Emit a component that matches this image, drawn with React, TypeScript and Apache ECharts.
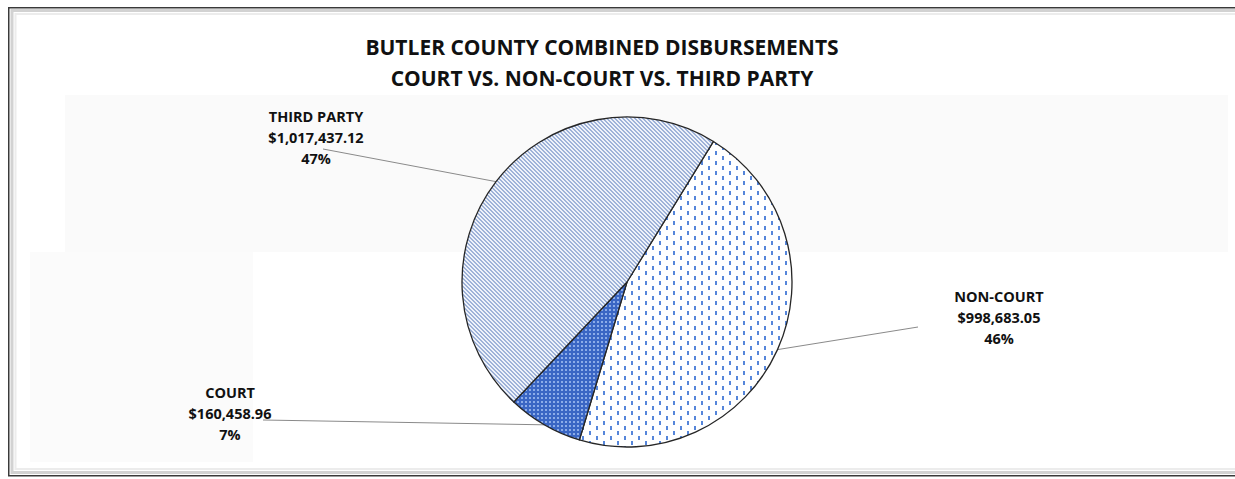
import React, { useEffect, useRef } from "react";
import * as echarts from "echarts";

const TITLE_LINES = ["BUTLER COUNTY COMBINED DISBURSEMENTS", "COURT VS. NON-COURT VS. THIRD PARTY"];
const CATEGORIES = ["NON-COURT", "COURT", "THIRD PARTY"];
const VALUES = [998683.05, 160458.96, 1017437.12];

// label layout (text block centres and leader line end points), pixels
const LABEL_CENTERS: [number, number][] = [[999, 317], [230, 413], [316, 137]];
const LINE_ENDS: [number, number][] = [[918, 327], [263, 420], [323, 149]];

type RGB = [number, number, number];
function makeTile(w: number, h: number, fn: (x: number, y: number) => RGB) {
  const c = document.createElement("canvas");
  c.width = w;
  c.height = h;
  const ctx = c.getContext("2d")!;
  const img = ctx.createImageData(w, h);
  for (let y = 0; y < h; y++) {
    for (let x = 0; x < w; x++) {
      const [r, g, b] = fn(x, y);
      const i = (y * w + x) * 4;
      img.data[i] = r;
      img.data[i + 1] = g;
      img.data[i + 2] = b;
      img.data[i + 3] = 255;
    }
  }
  ctx.putImageData(img, 0, 0);
  return c;
}

export default function App() {
  const ref = useRef<HTMLDivElement>(null);
  useEffect(() => {
    if (!ref.current) return;
    const chart = echarts.init(ref.current, null, { renderer: "svg" });

    const tpTile = makeTile(4, 4, (x, y) =>
      ((x - y + 8) % 4) < 2 ? [158, 178, 216] : [238, 242, 250]
    );
    const ncTile = makeTile(14, 10, (x, y) => {
      if ((x === 1 || x === 2) && y >= 1 && y <= 4) return [86, 134, 218];
      if ((x === 8 || x === 9) && y >= 6 && y <= 9) return [86, 134, 218];
      return [255, 255, 255];
    });
    const ctTile = makeTile(4, 4, (x, y) =>
      x >= 1 && x <= 2 && y >= 1 && y <= 2 ? [140, 172, 232] : [58, 102, 196]
    );
    const tiles = [ncTile, ctTile, tpTile];

    const total = VALUES.reduce((a, b) => a + b, 0);

    chart.setOption({
      animation: false,
      backgroundColor: "#ffffff",
      title: {
        text: TITLE_LINES.join("\n"),
        left: 597,
        top: 26,
        textAlign: "center",
        textStyle: {
          fontFamily: "Open Sans",
          fontWeight: "bold",
          fontSize: 21,
          lineHeight: 31,
          color: "#111111",
        },
      },
      graphic: [
        {
          type: "rect",
          z: -10,
          shape: { x: 65, y: 95, width: 1163, height: 157 },
          style: { fill: "#fafafa" },
          silent: true,
        },
        {
          type: "rect",
          z: -10,
          shape: { x: 30, y: 252, width: 223, height: 210 },
          style: { fill: "#fbfbfb" },
          silent: true,
        },
        {
          type: "rect",
          z: 10,
          shape: { x: 12, y: 10.5, width: 1240, height: 462 },
          style: { fill: "none", stroke: "#d2d2d2", lineWidth: 3 },
          silent: true,
        },
        {
          type: "rect",
          z: 10,
          shape: { x: 15.5, y: 14, width: 1240, height: 455 },
          style: { fill: "none", stroke: "#ececec", lineWidth: 2 },
          silent: true,
        },
        {
          type: "rect",
          z: 11,
          shape: { x: 8.75, y: 7.75, width: 1240, height: 468 },
          style: { fill: "none", stroke: "#3a3a3a", lineWidth: 1.5 },
          silent: true,
        },
      ],
      series: [
        {
          type: "pie",
          center: [627, 282],
          radius: 165,
          startAngle: 58.4,
          clockwise: true,
          avoidLabelOverlap: false,
          itemStyle: { borderColor: "#262626", borderWidth: 1.3 },
          emphasis: { disabled: true },
          label: {
            show: true,
            position: "outside",
            fontFamily: "Open Sans",
            fontWeight: "bold",
            fontSize: 14.5,
            lineHeight: 21,
            color: "#111111",
            align: "center",
            formatter: (p: any) =>
              `${p.name}\n$${Number(p.value).toLocaleString("en-US", {
                minimumFractionDigits: 2,
                maximumFractionDigits: 2,
              })}\n${Math.round((p.value / total) * 100)}%`,
          },
          labelLine: {
            show: true,
            lineStyle: { color: "#8a8a8a", width: 1 },
          },
          labelLayout: (params: any) => {
            const i = params.dataIndex;
            const start = params.labelLinePoints ? params.labelLinePoints[0] : LINE_ENDS[i];
            const end = LINE_ENDS[i];
            return {
              x: LABEL_CENTERS[i][0],
              y: LABEL_CENTERS[i][1],
              align: "center",
              verticalAlign: "middle",
              labelLinePoints: [start, end, end],
            };
          },
          data: CATEGORIES.map((name, i) => ({
            name,
            value: VALUES[i],
            itemStyle: {
              color: {
                image: tiles[i],
                repeat: "repeat",
                imageWidth: tiles[i].width,
                imageHeight: tiles[i].height,
              },
            },
          })),
        },
      ],
    });
    return () => chart.dispose();
  }, []);
  return (
    <div
      ref={ref}
      style={{ position: "fixed", left: 0, top: 0, width: 1235, height: 479 }}
    />
  );
}
